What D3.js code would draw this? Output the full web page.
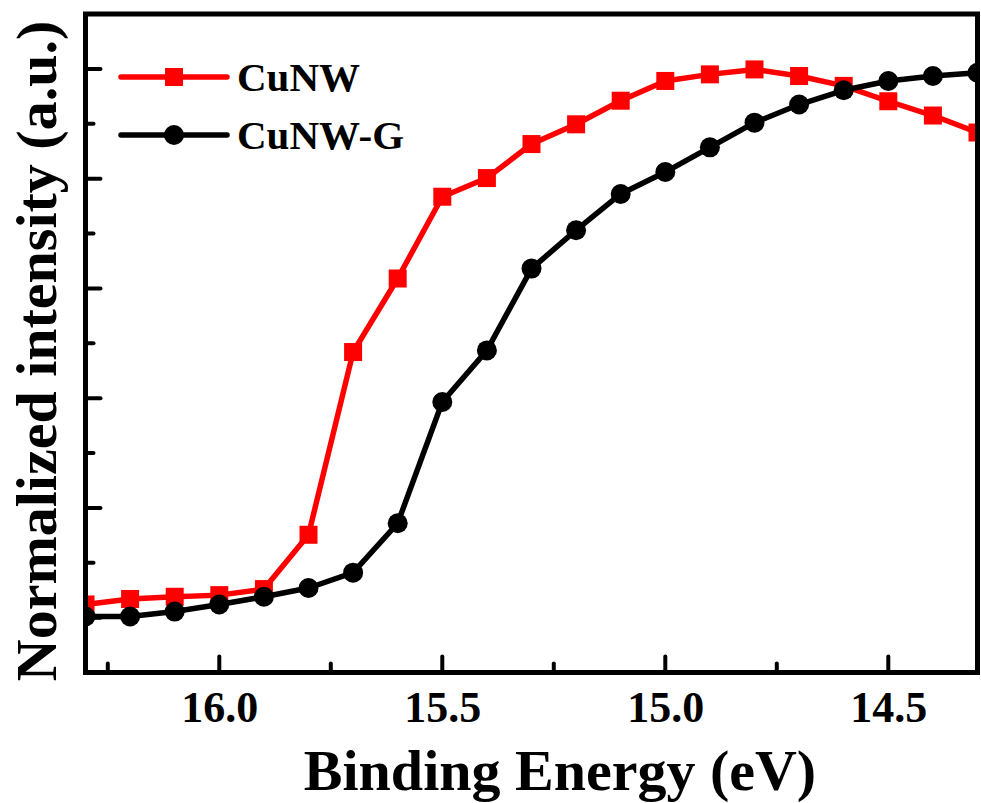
<!DOCTYPE html>
<html>
<head>
<meta charset="utf-8">
<script src="https://cdn.jsdelivr.net/npm/d3@7"></script>
<style>
  html, body { margin: 0; padding: 0; background: #fff; }
  svg { display: block; }
  text { font-family: "Liberation Serif", "Times New Roman", serif; font-weight: bold; fill: #000; }
</style>
</head>
<body>
<svg id="chart" width="981" height="803"></svg>
<script>
// binding energy (eV), one point every 0.1 eV
var energy = [16.3, 16.2, 16.1, 16.0, 15.9, 15.8, 15.7, 15.6, 15.5, 15.4, 15.3,
    15.2, 15.1, 15.0, 14.9, 14.8, 14.7, 14.6, 14.5, 14.4, 14.3];

var cunw = [0.024, 0.034, 0.038, 0.041, 0.052, 0.151, 0.484, 0.618, 0.767, 0.801, 0.863,
    0.899, 0.942, 0.978, 0.990, 0.999, 0.987, 0.969, 0.941, 0.915, 0.884];

var cunwG = [0.002, 0.002, 0.011, 0.024, 0.038, 0.054, 0.082, 0.172, 0.393, 0.487, 0.636,
    0.706, 0.772, 0.812, 0.857, 0.902, 0.935, 0.961, 0.978, 0.987, 0.993];

var seriesNames = ['CuNW', 'CuNW-G'];
var xMajor = [16.0, 15.5, 15.0, 14.5];
var xMinor = [16.25, 15.75, 15.25, 14.75];
var yMajor = [0, 0.2, 0.4, 0.6, 0.8, 1.0];
var yMinor = [0.1, 0.3, 0.5, 0.7, 0.9];

var box = { left: 85.5, top: 14, right: 977.5, bottom: 672.5 };

var svg = d3.select('#chart');

var x = d3.scaleLinear().domain([16.3, 14.3]).range([box.left, box.right]);
var y = d3.scaleLinear().domain([-0.1, 1.1]).range([box.bottom, box.top]);

svg.append('defs').append('clipPath')
    .attr('id', 'plot-clip')
    .append('rect')
    .attr('x', box.left)
    .attr('y', box.top)
    .attr('width', box.right - box.left)
    .attr('height', box.bottom - box.top);

var plot = svg.append('g').attr('clip-path', 'url(#plot-clip)');

var series = [
    { name: seriesNames[0], values: cunw, color: '#ff0000', shape: 'square' },
    { name: seriesNames[1], values: cunwG, color: '#000000', shape: 'circle' }
];

var line = d3.line()
    .x(function (d) { return x(d[0]); })
    .y(function (d) { return y(d[1]); });

series.forEach(function (s) {
    var pts = energy.map(function (e, i) { return [e, s.values[i]]; });
    var g = plot.append('g');
    g.append('path')
        .datum(pts)
        .attr('d', line)
        .attr('fill', 'none')
        .attr('stroke', s.color)
        .attr('stroke-width', 5.5)
        .attr('stroke-linejoin', 'round');
    pts.forEach(function (d) {
        marker(g, s, x(d[0]), y(d[1]));
    });
});

// axes: inward ticks on bottom and left, plain frame
var xAxis = d3.axisBottom(x).tickValues(xMajor).tickSize(0).tickFormat(d3.format('.1f'));
var gx = svg.append('g')
    .attr('transform', 'translate(0,' + box.bottom + ')')
    .call(xAxis);
gx.select('.domain').remove();
gx.selectAll('text')
    .attr('y', 49.5)
    .attr('dy', 0)
    .style('font-size', '44px');

svg.append('g').selectAll('line')
    .data(xMajor.map(function (v) { return [v, 16]; }).concat(xMinor.map(function (v) { return [v, 9]; })))
    .enter()
    .append('line')
    .attr('x1', function (d) { return x(d[0]); })
    .attr('x2', function (d) { return x(d[0]); })
    .attr('y1', box.bottom)
    .attr('y2', function (d) { return box.bottom - d[1]; })
    .attr('stroke', '#000')
    .attr('stroke-width', 4)
    .attr('stroke-linecap', 'round');

svg.append('g').selectAll('line')
    .data(yMajor.map(function (v) { return [v, 15]; }).concat(yMinor.map(function (v) { return [v, 8]; })))
    .enter()
    .append('line')
    .attr('x1', box.left)
    .attr('x2', function (d) { return box.left + d[1]; })
    .attr('y1', function (d) { return y(d[0]); })
    .attr('y2', function (d) { return y(d[0]); })
    .attr('stroke', '#000')
    .attr('stroke-width', 4)
    .attr('stroke-linecap', 'round');

svg.append('rect')
    .attr('x', box.left)
    .attr('y', box.top)
    .attr('width', box.right - box.left)
    .attr('height', box.bottom - box.top)
    .attr('fill', 'none')
    .attr('stroke', '#000')
    .attr('stroke-width', 5);

// titles
svg.append('text')
    .attr('x', 560)
    .attr('y', 790)
    .attr('text-anchor', 'middle')
    .style('font-size', '58px')
    .text('Binding Energy (eV)');

svg.append('text')
    .attr('transform', 'translate(56,351) rotate(-90)')
    .attr('text-anchor', 'middle')
    .style('font-size', '58px')
    .text('Normalized intensity (a.u.)');

// legend
var legend = svg.append('g');
series.forEach(function (s, i) {
    var ly = 77 + i * 58;
    legend.append('line')
        .attr('x1', 121)
        .attr('x2', 227)
        .attr('y1', ly)
        .attr('y2', ly)
        .attr('stroke', s.color)
        .attr('stroke-width', 5.5)
        .attr('stroke-linecap', 'round');
    marker(legend, s, 174, ly);
    legend.append('text')
        .attr('x', 237)
        .attr('y', ly + 14)
        .style('font-size', '41px')
        .text(s.name);
});

function marker(g, s, cx, cy) {
    if (s.shape === 'square') {
        g.append('rect')
            .attr('x', cx - 9)
            .attr('y', cy - 9)
            .attr('width', 18)
            .attr('height', 18)
            .attr('fill', s.color);
    } else {
        g.append('circle')
            .attr('cx', cx)
            .attr('cy', cy)
            .attr('r', 10)
            .attr('fill', s.color);
    }
}
</script>
</body>
</html>
